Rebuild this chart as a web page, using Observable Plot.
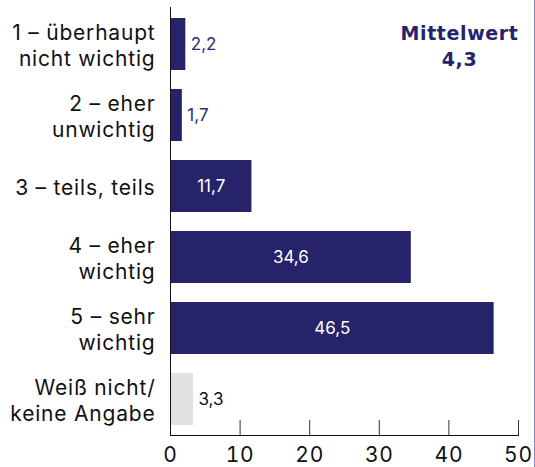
<!DOCTYPE html>
<html>
<head>
<meta charset="utf-8">
<script src="https://cdn.jsdelivr.net/npm/d3@7"></script>
<script src="https://cdn.jsdelivr.net/npm/@observablehq/plot@0.6"></script>
<style>
  html, body { margin: 0; padding: 0; background: #fff; }
  #chart { width: 534px; height: 467px; border-right: 1px solid #8c88c4; position: relative; }
  svg { font-family: Inter, "Noto Sans", sans-serif; }
  g[aria-label="y-axis tick label"] text, g[aria-label="x-axis tick label"] text { letter-spacing: 0.8px; }
  g.mean text { letter-spacing: 0.6px; }
</style>
</head>
<body>
<div id="chart"></div>
<script>
const categories = [
  "1 – überhaupt\nnicht wichtig",
  "2 – eher\nunwichtig",
  "3 – teils, teils",
  "4 – eher\nwichtig",
  "5 – sehr\nwichtig",
  "Weiß nicht/\nkeine Angabe"
];
const values = [2.2, 1.7, 11.7, 34.6, 46.5, 3.3];
const isNoAnswer = [false, false, false, false, false, true];
const xTicks = [0, 10, 20, 30, 40, 50];
const meanLabel = "Mittelwert\n4,3";

const navy = "#27236b";
const fmt = v => v.toFixed(1).replace(".", ",");
const data = categories.map((c, i) => ({cat: c, value: values[i], na: isNoAnswer[i]}));
const inside = data.filter(d => d.value >= 10);
const outside = data.filter(d => d.value < 10);

const chart = Plot.plot({
  width: 534,
  height: 467,
  marginLeft: 170,
  marginRight: 16,
  marginTop: 7,
  marginBottom: 32,
  style: {fontFamily: "Inter, 'Noto Sans', sans-serif", background: "transparent"},
  x: {domain: [0, 50], ticks: xTicks},
  y: {domain: categories, paddingInner: 0.27, paddingOuter: 0.135},
  marks: [
    Plot.barX(data, {x: "value", y: "cat", fill: d => d.na ? "#e1e1e1" : navy}),
    Plot.text(inside, {x: d => d.value / 2, y: "cat", text: d => fmt(d.value), fill: "white", fontSize: 17}),
    Plot.text(outside, {x: "value", y: "cat", text: d => fmt(d.value), dx: 5, textAnchor: "start", fill: d => d.na ? "#111" : "#2f2a7a", fontSize: 17}),
    Plot.ruleX(xTicks.slice(1), {x: d => d, insetTop: 413, stroke: "#333"}),
    Plot.ruleX([0], {stroke: "#111"}),
    Plot.frame({anchor: "bottom", stroke: "#111"}),
    Plot.axisX({ticks: xTicks, tickSize: 0, tickPadding: 12, fontSize: 21, fill: "#111", label: null}),
    Plot.axisY({tickSize: 0, tickPadding: 15, fontSize: 21, lineHeight: 1.24, fill: "#111", label: null}),
    Plot.text([meanLabel], {frameAnchor: "top-right", textAnchor: "middle", lineAnchor: "top", dx: -59, dy: 14, fontSize: 19, fontWeight: "bold", fontFamily: "DejaVu Sans", lineHeight: 1.37, fill: navy, className: "mean"})
  ]
});
document.getElementById("chart").appendChild(chart);
</script>
</body>
</html>
